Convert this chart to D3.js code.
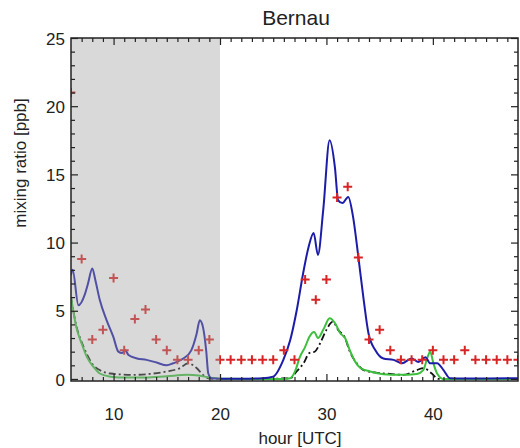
<!DOCTYPE html>
<html lang="en">
<head>
<meta charset="UTF-8">
<title>Bernau</title>
<script src="https://d3js.org/d3.v7.min.js"></script>
<style>
  body { margin: 0; background: #fff; }
  text { font-family: "Liberation Sans", Arial, sans-serif; fill: #222; }
</style>
</head>
<body>
<svg width="520" height="448"></svg>
<script>
// observations (red crosses), one per hour
const obsHours = d3.range(6, 49);
const obsValues = [21.0, 8.8, 2.9, 3.6, 7.4, 2.1, 4.4, 5.1, 2.9, 2.1, 1.4, 1.4, 2.1, 2.9,
  1.4, 1.4, 1.4, 1.4, 1.4, 1.4, 2.1, 1.4, 7.3, 5.8, 7.3, 13.3, 14.1, 8.9, 2.9, 3.6,
  2.1, 1.4, 1.4, 1.4, 2.1, 1.4, 1.4, 2.1, 1.4, 1.4, 1.4, 1.4, 1.4];

// model total (blue)
const totalHours = [6.0, 6.15, 6.7, 7.3, 7.6, 8.0, 8.3, 8.7, 9.35, 9.97, 10.45, 10.8, 11.1, 11.4,
  12.2, 13.1, 14.05, 15.0, 15.6, 16.55, 17.3, 17.8, 18.1, 18.4, 18.7, 18.9, 19.2, 20, 22, 24,
  25.0, 25.95, 26.6, 27.2, 27.8, 28.3, 28.8, 29.2, 29.7, 30.3, 30.8, 31.1, 31.5, 32.05, 32.5,
  33.0, 33.5, 33.95, 34.6, 35.35, 36.3, 37.1, 38.0, 38.65, 39.3, 39.75, 40.4, 41.0, 41.6,
  43, 45, 48];
const totalValues = [7.6, 8.0, 5.4, 6.2, 7.0, 8.1, 7.2, 5.8, 4.3, 3.1, 2.0, 1.9, 2.1, 1.75,
  1.5, 1.4, 1.2, 1.0, 1.15, 1.5, 2.1, 3.3, 4.3, 3.8, 2.1, 0.4, 0.05, 0.02, 0.02, 0.05,
  0.17, 1.4, 2.85, 5.0, 7.7, 9.6, 10.7, 9.1, 12.4, 17.5, 15.5, 13.1, 12.9, 13.35, 11.9,
  8.95, 5.8, 3.35, 2.1, 1.5, 1.4, 1.15, 1.5, 1.25, 1.6, 1.15, 1.15, 0.65, 0.05,
  0.03, 0.03, 0.05];

// model component (green)
const greenHours = [6.0, 6.2, 6.5, 7.0, 7.5, 8.1, 8.7, 9.7, 11.2, 13, 15, 16.9, 18, 19, 20,
  24, 26.0, 26.6, 27.05, 27.5, 28.0, 28.4, 28.85, 29.2, 29.7, 30.3, 30.8, 31.3, 31.75, 32.2,
  32.7, 33.2, 34.1, 35.35, 36.9, 38.5, 39.1, 39.5, 39.75, 40.05, 40.4, 41, 44, 48];
const greenValues = [6.0, 5.05, 3.8, 2.6, 1.6, 0.9, 0.4, 0.17, 0.1, 0.1, 0.2, 0.3, 0.25, 0.1, 0.02,
  0.0, 0.0, 0.05, 0.55, 1.6, 2.35, 3.1, 3.45, 3.0, 3.6, 4.45, 4.1, 3.35, 3.0, 2.1,
  1.27, 0.8, 0.55, 0.35, 0.3, 0.37, 0.65, 1.6, 2.0, 1.15, 0.4, 0.0, 0.0, 0.0];

// model component (black dash-dot)
const blackHours = [6.0, 6.5, 7.0, 7.5, 8.1, 8.7, 9.7, 11.9, 13.4, 15, 16.25, 17.0, 17.8, 18.4,
  19.1, 22, 26.6, 27.2, 27.85, 28.4, 28.9, 29.4, 30.0, 30.6, 31.1, 31.75, 32.2, 32.85, 33.5,
  34.75, 36, 37.2, 38.5, 39.1, 39.9, 40.5, 44, 48];
const blackValues = [6.0, 3.9, 2.7, 1.8, 1.0, 0.65, 0.4, 0.3, 0.37, 0.55, 0.8, 1.15, 0.8, 0.3,
  0.02, 0.0, 0.05, 0.55, 1.15, 1.9, 2.0, 2.6, 3.6, 4.2, 3.6, 3.0, 2.0, 1.15, 0.65,
  0.45, 0.37, 0.3, 0.65, 0.8, 0.4, 0.0, 0.0, 0.0];

const xTicks = [10, 20, 30, 40];
const yTicks = [0, 5, 10, 15, 20, 25];
const nightStart = 6, nightEnd = 20;

const margin = { top: 38, right: 2, bottom: 67, left: 71 };
const width = 518 - margin.left;
const height = 381 - margin.top;

const svg = d3.select("svg");
const g = svg.append("g").attr("transform", `translate(${margin.left},${margin.top})`);

const x = d3.scaleLinear().domain([6, 48]).range([0, width]);
const y = d3.scaleLinear().domain([-0.15, 25]).range([height, 0]);

g.append("clipPath").attr("id", "clip")
  .append("rect").attr("width", width).attr("height", height);

const plot = g.append("g").attr("clip-path", "url(#clip)");

const line = d3.line()
  .x(d => x(d[0]))
  .y(d => y(d[1]))
  .curve(d3.curveMonotoneX);

plot.append("path")
  .datum(d3.zip(blackHours, blackValues))
  .attr("d", line)
  .attr("fill", "none")
  .attr("stroke", "#111")
  .attr("stroke-width", 1.8)
  .attr("stroke-dasharray", "7,3,2,3");

plot.append("path")
  .datum(d3.zip(greenHours, greenValues))
  .attr("d", line)
  .attr("fill", "none")
  .attr("stroke", "#3cbf3c")
  .attr("stroke-width", 2);

plot.append("path")
  .datum(d3.zip(totalHours, totalValues))
  .attr("d", line)
  .attr("fill", "none")
  .attr("stroke", "#1c1ca8")
  .attr("stroke-width", 2);

// red crosses
const cs = 4.5;
const obs = plot.selectAll(".obs")
  .data(d3.zip(obsHours, obsValues))
  .enter().append("g")
  .attr("class", "obs")
  .attr("transform", d => `translate(${x(d[0])},${y(d[1])})`);
obs.append("path")
  .attr("d", `M${-cs},0H${cs}M0,${-cs}V${cs}`)
  .attr("stroke", "#d82424")
  .attr("stroke-width", 2);

// night shading, drawn over the data so it fades it
g.append("rect")
  .attr("x", x(nightStart))
  .attr("y", 0)
  .attr("width", x(nightEnd) - x(nightStart))
  .attr("height", height)
  .attr("fill", "#a0a0a0")
  .attr("opacity", 0.4);

// axes with inward ticks on all four sides
function ticksIn(axis) {
  return axis.tickSizeInner(-7).tickSizeOuter(0);
}
const minorX = d3.range(7, 48).filter(v => v % 10 !== 0);
const minorY = d3.range(1, 25).filter(v => v % 5 !== 0);

const bottom = g.append("g").attr("transform", `translate(0,${height})`)
  .call(ticksIn(d3.axisBottom(x).tickValues(xTicks)));
bottom.selectAll("text").attr("dy", null).attr("y", 39);
g.append("g").attr("transform", `translate(0,${height})`)
  .call(d3.axisBottom(x).tickValues(minorX).tickSizeInner(-4).tickSizeOuter(0).tickFormat(""));

g.append("g").call(ticksIn(d3.axisTop(x).tickValues(xTicks)).tickFormat(""));
g.append("g").call(d3.axisTop(x).tickValues(minorX).tickSizeInner(-4).tickSizeOuter(0).tickFormat(""));

const left = g.append("g").call(ticksIn(d3.axisLeft(y).tickValues(yTicks)));
left.selectAll("text").attr("x", -6).attr("dy", "0.36em");
g.append("g").call(d3.axisLeft(y).tickValues(minorY).tickSizeInner(-4).tickSizeOuter(0).tickFormat(""));

g.append("g").attr("transform", `translate(${width},0)`)
  .call(ticksIn(d3.axisRight(y).tickValues(yTicks)).tickFormat(""));
g.append("g").attr("transform", `translate(${width},0)`)
  .call(d3.axisRight(y).tickValues(minorY).tickSizeInner(-4).tickSizeOuter(0).tickFormat(""));

g.selectAll(".domain").remove();
g.selectAll(".tick line").attr("stroke", "#222").attr("stroke-width", 1.2);
g.selectAll(".tick text").attr("font-size", 17).attr("fill", "#222")
  .style("font-family", "'Liberation Sans', Arial, sans-serif");

// frame
g.append("rect")
  .attr("width", width).attr("height", height)
  .attr("fill", "none").attr("stroke", "#222").attr("stroke-width", 1.5);

svg.append("text")
  .attr("x", 296).attr("y", 25)
  .attr("text-anchor", "middle")
  .attr("font-size", 21)
  .text("Bernau");

svg.append("text")
  .attr("x", 300).attr("y", 444)
  .attr("text-anchor", "middle")
  .attr("font-size", 17)
  .text("hour [UTC]");

svg.append("text")
  .attr("transform", "translate(26,163) rotate(-90)")
  .attr("text-anchor", "middle")
  .attr("font-size", 17)
  .text("mixing ratio [ppb]");
</script>
</body>
</html>
